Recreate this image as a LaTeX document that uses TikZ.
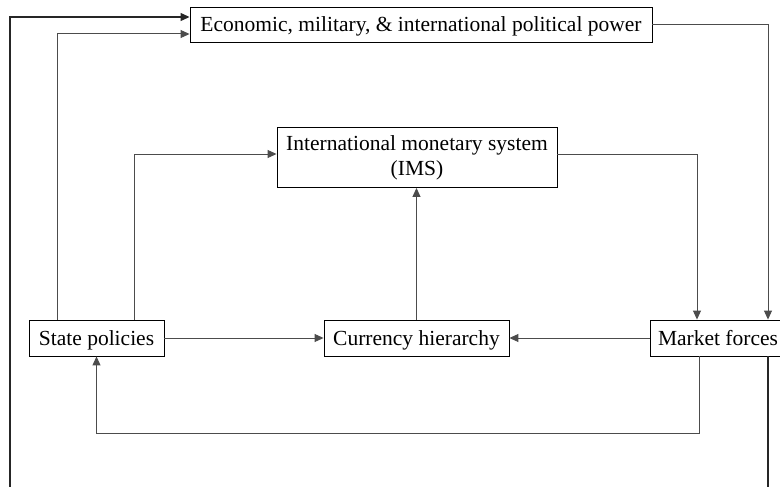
\documentclass[tikz,border=0pt]{standalone}
\usepackage{fontspec}
\setmainfont{Liberation Serif}
\usetikzlibrary{arrows.meta}
\begin{document}
\begin{tikzpicture}[x=1pt,y=-1pt,
  box/.style={draw=black, line width=0.9pt, fill=white, inner sep=2pt,
    align=center, font=\fontsize{21.5}{25}\selectfont},
  oneline/.style={box, text height=17.5pt, text depth=2.5pt, minimum height=36pt},
  link/.style={draw=black!70, line width=1pt},
  tip/.style={-{Triangle[length=9pt,width=8pt]}},
  arr/.style={link, tip},
  edge line/.style={draw=black!85, line width=1.2pt}]
  \useasboundingbox (0,0) rectangle (780,487);

  % boxes
  \node[oneline, minimum width=462pt, minimum height=35pt] (econ) at (421,24.5)
    {Economic, military, \& international political power};
  \node[box, minimum width=280pt, minimum height=60pt] (ims) at (417,157.5)
    {International monetary system\\(IMS)};
  \node[oneline, minimum width=135pt] (state) at (96.5,338)
    {State policies};
  \node[oneline, minimum width=185pt] (cur) at (416.5,338)
    {Currency hierarchy};
  \node[oneline, minimum width=136pt] (mkt) at (718,338)
    {Market forces};

  % open ends of the outer loop
  \coordinate (bl) at (10,487);
  \coordinate (br) at (768,487);

  % outer links to and from the power box
  \draw[edge line, tip] (bl) |- ([yshift=7.5pt]econ.west);
  \draw[arr] ([xshift=-39.5pt]state.north) |- ([yshift=-9.5pt]econ.west);
  \draw[arr] (econ.east) -| ([xshift=50pt]mkt.north);
  \draw[edge line] ([xshift=50pt]mkt.south) -- (br);

  % inner links
  \draw[arr] ([xshift=37.5pt]state.north) |- ([yshift=3.5pt]ims.west);
  \draw[arr] ([yshift=3.5pt]ims.east) -| ([xshift=-21pt]mkt.north);
  \draw[arr] (state.east) -- (cur.west);
  \draw[arr] (mkt.west) -- (cur.east);
  \draw[arr] (cur.north) -- (cur.north |- ims.south);
  \draw[arr] ([xshift=-19pt]mkt.south) -- ++(0,77) -| (state.south);
\end{tikzpicture}
\end{document}
